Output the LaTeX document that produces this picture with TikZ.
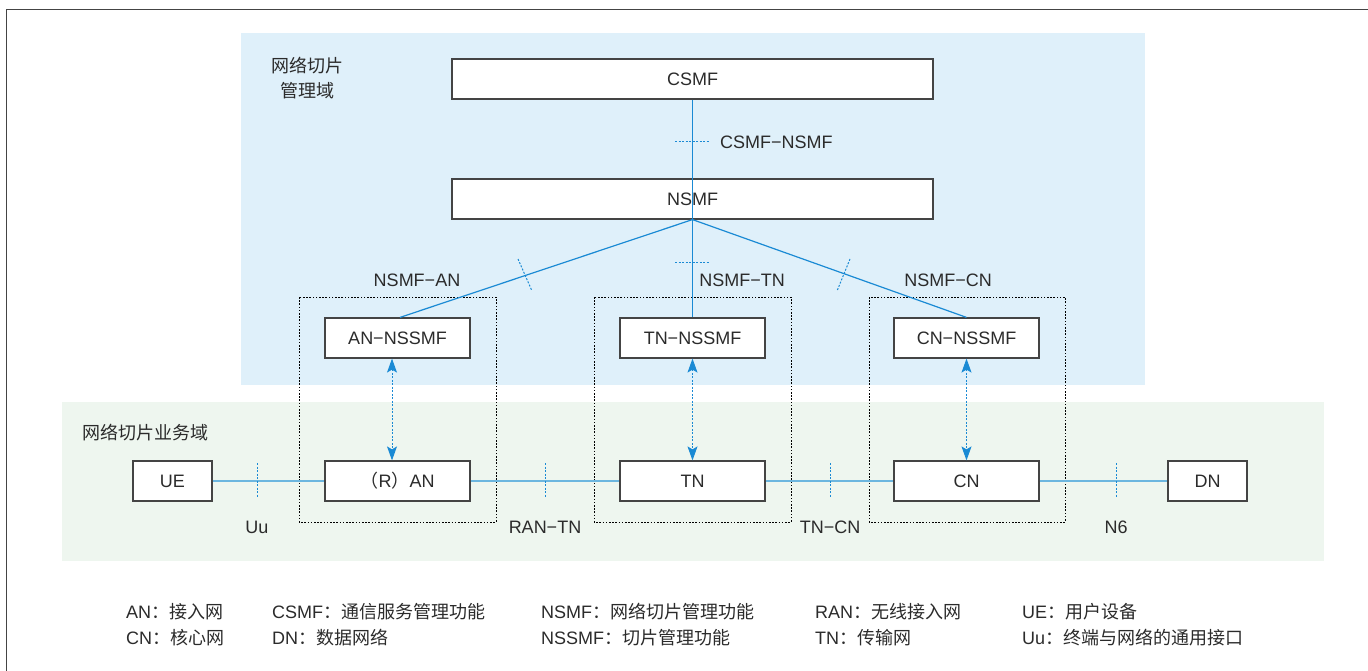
\documentclass[tikz,border=0pt]{standalone}
\usepackage{fontspec}
\setmainfont{Liberation Sans}
\newfontfamily\cjk{Noto Sans CJK SC}
\usetikzlibrary{arrows.meta}
\definecolor{bgblue}{HTML}{DFF0FA}
\definecolor{bggreen}{HTML}{EEF6EF}
\definecolor{lnblue}{HTML}{1A8AD4}
\definecolor{lnlight}{HTML}{6CB6DF}
\definecolor{txt}{HTML}{2B2B2B}
\definecolor{bdr}{HTML}{444444}
\newcommand{\zh}[1]{{\cjk #1}}
\tikzset{
  box/.style={draw=bdr, line width=1.2pt, fill=white, text=txt, inner sep=0pt,
    font=\fontsize{18}{22}\selectfont},
  wide/.style={box, minimum width=481pt, minimum height=40pt},
  mid/.style={box, minimum width=145pt, minimum height=40pt},
  small/.style={box, minimum width=79pt, minimum height=40pt},
  grp/.style={draw=black, line width=1pt, dash pattern=on 1.6pt off 1.6pt},
  mainline/.style={draw=lnblue, line width=1.2pt},
  busline/.style={draw=lnlight, line width=2.2pt},
  tick/.style={draw=lnblue, line width=1pt, dash pattern=on 2pt off 1.5pt},
  dual/.style={draw=lnblue, line width=1pt, dash pattern=on 2pt off 1.5pt,
    {Stealth[length=14pt,width=10pt,inset=3pt]}-{Stealth[length=14pt,width=10pt,inset=3pt]}},
  lbl/.style={text=txt, inner sep=0pt, font=\fontsize{18}{22}\selectfont},
}
\begin{document}
\begin{tikzpicture}[x=1pt, y=-1pt]
\useasboundingbox (0,0) rectangle (1368,671);
% frame
\draw[line width=1.5pt, draw=bdr] (1368,9.5) -- (6.5,9.5) -- (6.5,671);
% domains
\fill[bgblue] (241,33) rectangle (1145,385);
\fill[bggreen] (62,402) rectangle (1324,561);
\node[lbl, align=center] (mgmt) at (307,78) {\zh{网络切片}\\[3pt]\zh{管理域}};
\node[lbl, anchor=west] (svc) at (82,433) {\zh{网络切片业务域}};
% group boxes
\draw[grp] (299,297) rectangle (496,522);
\draw[grp] (594,297) rectangle (791,522);
\draw[grp] (869,297) rectangle (1065,522);
% nodes
\node[wide] (csmf) at (692.5,79) {CSMF};
\node[wide] (nsmf) at (692.5,199) {NSMF};
\node[mid] (anm) at (397.5,338) {AN−NSSMF};
\node[mid] (tnm) at (692.5,338) {TN−NSSMF};
\node[mid] (cnm) at (966.5,338) {CN−NSSMF};
\node[small] (ue) at (172.5,481) {UE};
\node[mid] (ran) at (397.5,481) {\zh{（}R\zh{）}AN};
\node[mid] (tn) at (692.5,481) {TN};
\node[mid] (cn) at (966.5,481) {CN};
\node[small] (dn) at (1207.5,481) {DN};
% management connectors
\draw[mainline] (csmf.south) -- (tnm.north);
\draw[mainline] (nsmf.south) -- ([xshift=2.5pt]anm.north);
\draw[mainline] (nsmf.south) -- (cnm.north);
% bus
\draw[busline] (ue.east) -- (ran.west);
\draw[busline] (ran.east) -- (tn.west);
\draw[busline] (tn.east) -- (cn.west);
\draw[busline] (cn.east) -- (dn.west);
% dual arrows
\draw[dual] ([xshift=-5.5pt]anm.south) -- ([xshift=-5.5pt]ran.north);
\draw[dual] (tnm.south) -- (tn.north);
\draw[dual] (cnm.south) -- (cn.north);
% ticks
\coordinate (t1a) at (675,142); \coordinate (t1b) at (710,142);
\coordinate (t2a) at (518,259); \coordinate (t2b) at (532,291);
\coordinate (t3a) at (675,262); \coordinate (t3b) at (710,262);
\coordinate (t4a) at (850,259); \coordinate (t4b) at (837,291);
\draw[tick] (t1a) -- (t1b);
\draw[tick] (t2a) -- (t2b);
\draw[tick] (t3a) -- (t3b);
\draw[tick] (t4a) -- (t4b);
\coordinate (u1a) at (257,463); \coordinate (u1b) at (257,498);
\coordinate (u2a) at (545,463); \coordinate (u2b) at (545,498);
\coordinate (u3a) at (830,463); \coordinate (u3b) at (830,498);
\coordinate (u4a) at (1116,463); \coordinate (u4b) at (1116,498);
\draw[tick] (u1a) -- (u1b);
\draw[tick] (u2a) -- (u2b);
\draw[tick] (u3a) -- (u3b);
\draw[tick] (u4a) -- (u4b);
% interface labels
\node[lbl, anchor=west] (l1) at (720,142) {CSMF−NSMF};
\node[lbl] (l2) at (417,280) {NSMF−AN};
\node[lbl] (l3) at (742,280) {NSMF−TN};
\node[lbl] (l4) at (948,280) {NSMF−CN};
\node[lbl] (l5) at (257,527) {Uu};
\node[lbl] (l6) at (545,527) {RAN−TN};
\node[lbl] (l7) at (830,527) {TN−CN};
\node[lbl] (l8) at (1116,527) {N6};
% legend
\node[lbl, anchor=west] (g1) at (126,612) {AN\zh{：接入网}};
\node[lbl, anchor=west] (g2) at (126,638) {CN\zh{：核心网}};
\node[lbl, anchor=west] (g3) at (272,612) {CSMF\zh{：通信服务管理功能}};
\node[lbl, anchor=west] (g4) at (272,638) {DN\zh{：数据网络}};
\node[lbl, anchor=west] (g5) at (541,612) {NSMF\zh{：网络切片管理功能}};
\node[lbl, anchor=west] (g6) at (541,638) {NSSMF\zh{：切片管理功能}};
\node[lbl, anchor=west] (g7) at (815,612) {RAN\zh{：无线接入网}};
\node[lbl, anchor=west] (g8) at (815,638) {TN\zh{：传输网}};
\node[lbl, anchor=west] (g9) at (1022,612) {UE\zh{：用户设备}};
\node[lbl, anchor=west] (g10) at (1022,638) {Uu\zh{：终端与网络的通用接口}};
\end{tikzpicture}
\end{document}
